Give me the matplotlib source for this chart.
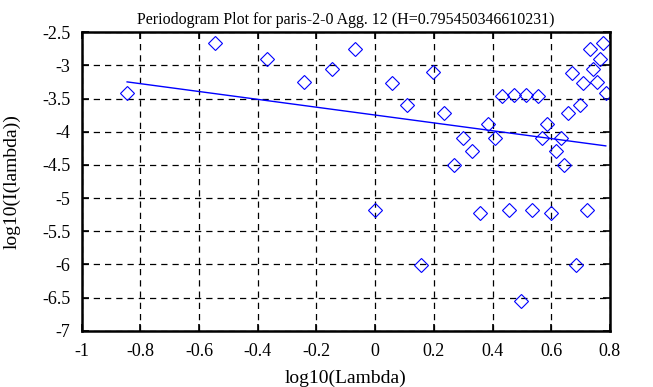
import numpy as np
import matplotlib
matplotlib.use("Agg")
import matplotlib.pyplot as plt

# log10(lambda), log10(I(lambda))
log_lambda = [-0.845, -0.545, -0.369, -0.243, -0.146, -0.069, 0.0, 0.058, 0.108,
              0.155, 0.197, 0.235, 0.270, 0.300, 0.330, 0.358, 0.383, 0.407,
              0.433, 0.455, 0.474, 0.497, 0.514, 0.533, 0.554, 0.567, 0.584,
              0.600, 0.616, 0.634, 0.644, 0.658, 0.672, 0.685, 0.698, 0.708,
              0.722, 0.732, 0.743, 0.756, 0.766, 0.777, 0.786]
log_periodogram = [-3.42, -2.66, -2.91, -3.25, -3.06, -2.76, -5.18, -3.26, -3.60,
                   -6.01, -3.10, -3.72, -4.50, -4.10, -4.29, -5.22, -3.89, -4.10,
                   -3.46, -5.18, -3.44, -6.55, -3.44, -5.18, -3.46, -4.10, -3.89,
                   -5.22, -4.29, -4.10, -4.50, -3.72, -3.11, -6.01, -3.60, -3.27,
                   -5.18, -2.76, -3.06, -3.25, -2.90, -2.66, -3.42]

H = 0.795450346610231
slope = 1 - 2 * H
intercept = -3.749

plt.rcParams["font.family"] = ["Liberation Serif", "DejaVu Serif"]
plt.rcParams["axes.unicode_minus"] = False

fig = plt.figure(figsize=(6.53, 3.87), dpi=100)
ax = fig.add_axes([0.125, 0.145, 0.809, 0.772])

ax.plot(log_lambda, log_periodogram, linestyle="none", marker="D", markersize=7,
        markerfacecolor="none", markeredgecolor="blue", markeredgewidth=0.8)

xfit = np.array([min(log_lambda), max(log_lambda)])
ax.plot(xfit, intercept + slope * xfit, color="blue", linewidth=1.0)

ax.set_xlim(-1, 0.8)
ax.set_ylim(-7, -2.5)
ax.set_xticks(np.arange(-1, 0.81, 0.2))
ax.set_xticklabels(["-1", "-0.8", "-0.6", "-0.4", "-0.2", "0", "0.2", "0.4", "0.6", "0.8"])
ax.set_yticks(np.arange(-7, -2.49, 0.5))
ax.set_yticklabels(["-7", "-6.5", "-6", "-5.5", "-5", "-4.5", "-4", "-3.5", "-3", "-2.5"])

ax.grid(True, color="black", linestyle=(0, (5, 4)), linewidth=0.9)
ax.tick_params(direction="in", length=5, width=1.2, top=True, right=True, labelsize=13)
ax.tick_params(axis="x", pad=9)
ax.tick_params(axis="y", pad=8)
for s in ax.spines.values():
    s.set_linewidth(1.8)

ax.set_xlabel("log10(Lambda)", fontsize=14, labelpad=7)
ax.set_ylabel("log10(I(lambda))", fontsize=14)
ax.yaxis.set_label_coords(-0.115, 0.5)
ax.set_title("Periodogram Plot for paris-2-0 Agg. 12 (H=0.795450346610231)",
             fontsize=11.5, pad=6)

fig.savefig("out.png", dpi=100)
